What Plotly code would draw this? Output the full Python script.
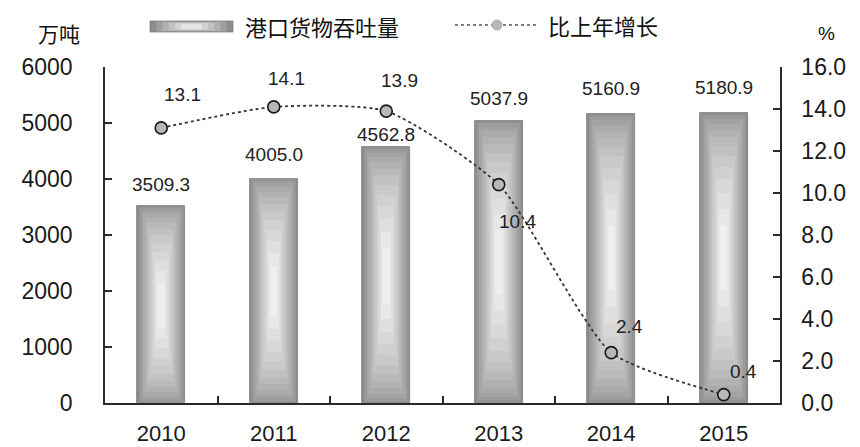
import plotly.graph_objects as go

# ---------------- data ----------------
years = ["2010", "2011", "2012", "2013", "2014", "2015"]
throughput = [3509.3, 4005.0, 4562.8, 5037.9, 5160.9, 5180.9]   # 万吨
growth = [13.1, 14.1, 13.9, 10.4, 2.4, 0.4]                     # %
left_ticks = [0, 1000, 2000, 3000, 4000, 5000, 6000]
right_ticks = [0, 2, 4, 6, 8, 10, 12, 14, 16]
bar_name = "港口货物吞吐量"
line_name = "比上年增长"
left_unit = "万吨"
right_unit = "%"

# ---------------- style ----------------
NUM_FONT = "Liberation Sans, Arial, sans-serif"
CJK_FONT = "Noto Sans CJK SC, sans-serif"
AX = "#2a2a2a"
EDGE = (140, 140, 140)
CENTER = (246, 246, 246)


def mix(f):
    r, g, b = (int(round(EDGE[i] + (CENTER[i] - EDGE[i]) * f)) for i in range(3))
    return f"rgb({r},{g},{b})"


fig = go.Figure()

# layered bars -> approximate the radial grey gradient of the original
N = 14
W = 0.43
for k in range(N):
    f = k / N
    g = 0.9 * f ** 2
    bases = [v * 0.5 * g for v in throughput]
    heights = [v * (1 - g) for v in throughput]
    fig.add_trace(go.Bar(
        x=years, y=heights, base=bases, width=W * (1 - 0.93 * f),
        marker=dict(color=mix(f),
                    line=dict(color="#7c7c7c" if k == 0 else mix(f), width=0.8 if k == 0 else 0)),
        showlegend=False, hoverinfo="skip", yaxis="y",
    ))

# growth line
fig.add_trace(go.Scatter(
    x=years, y=growth, yaxis="y2", mode="lines+markers",
    line=dict(shape="spline", smoothing=0.6, dash="dot", color="#333333", width=1.8),
    marker=dict(size=12, color="#b8b8b8", line=dict(color="#1a1a1a", width=1.6)),
    showlegend=False, hoverinfo="skip",
))

annotations = []
# bar value labels (x given as category index); yshift in px, up is positive
bar_shift = [22, 24, 13, 22, 25, 25]
for i, (v, s) in enumerate(zip(throughput, bar_shift)):
    annotations.append(dict(x=i, y=v, xref="x", yref="y", text=f"{v:.1f}",
                            showarrow=False, yshift=s, yanchor="middle",
                            font=dict(family=NUM_FONT, size=19, color="#222")))
# growth labels (xshift right, yshift up)
line_shift = [(21, 33), (13, 28), (13, 31), (19, -37), (18, 26), (20, 23)]
for i, (v, (dx, dy)) in enumerate(zip(growth, line_shift)):
    annotations.append(dict(x=i, y=v, xref="x", yref="y2", text=f"{v:.1f}",
                            showarrow=False, xshift=dx, yshift=dy,
                            font=dict(family=NUM_FONT, size=19, color="#222")))

# units
annotations.append(dict(x=-0.034, y=1.101, xref="paper", yref="paper", text=left_unit,
                        xanchor="right", yanchor="middle", showarrow=False,
                        font=dict(family=CJK_FONT, size=21, color="#111")))
annotations.append(dict(x=1.054, y=1.10, xref="paper", yref="paper", text=right_unit,
                        xanchor="left", yanchor="middle", showarrow=False,
                        font=dict(family=NUM_FONT, size=19, color="#111")))

# custom legend text
annotations.append(dict(x=0.205, y=1.122, xref="paper", yref="paper", text=bar_name,
                        xanchor="left", yanchor="middle", showarrow=False,
                        font=dict(family=CJK_FONT, size=22, color="#111")))
annotations.append(dict(x=0.654, y=1.125, xref="paper", yref="paper", text=line_name,
                        xanchor="left", yanchor="middle", showarrow=False,
                        font=dict(family=CJK_FONT, size=22, color="#111")))

shapes = []
# legend bar swatch (nested rects for gradient)
sx0, sx1, sy0, sy1 = 0.0667, 0.1896, 1.1042, 1.1369
L = 6
for k in range(L):
    f = k / L
    dx = (sx1 - sx0) * 0.5 * f * 0.9
    dy = (sy1 - sy0) * 0.5 * f * 0.6
    shapes.append(dict(type="rect", xref="paper", yref="paper",
                       x0=sx0 + dx, x1=sx1 - dx, y0=sy0 + dy, y1=sy1 - dy,
                       fillcolor=mix(f), line=dict(width=0.8 if k == 0 else 0, color="#7c7c7c"),
                       layer="above"))
# legend line swatch
shapes.append(dict(type="line", xref="paper", yref="paper", x0=0.5185, x1=0.64, y0=1.125, y1=1.125,
                   line=dict(color="#555", width=1.6, dash="dot")))
shapes.append(dict(type="circle", xref="paper", yref="paper",
                   x0=0.5807 - 0.0074, x1=0.5807 + 0.0074, y0=1.125 - 0.0149, y1=1.125 + 0.0149,
                   fillcolor="#b8b8b8", line=dict(color="#b0b0b0", width=1)))

# margins compensate the page's default 8px body offset
fig.update_layout(
    width=860, height=447,
    margin=dict(l=97, r=88, t=59, b=52, autoexpand=False),
    paper_bgcolor="white", plot_bgcolor="white",
    barmode="overlay", bargap=0,
    showlegend=False,
    annotations=annotations, shapes=shapes,
    xaxis=dict(type="category", range=[-0.5, len(years) - 0.5], autorange=False, automargin=False,
               showline=True, linecolor=AX, linewidth=1.5,
               ticks="inside", ticklen=7, tickcolor=AX, tickwidth=1.5, tickson="boundaries",
               showgrid=False, zeroline=False, ticklabelstandoff=10, tickangle=0,
               tickfont=dict(family=NUM_FONT, size=22, color="#1a1a1a")),
    yaxis=dict(range=[0, 6000], autorange=False, automargin=False, tickvals=left_ticks, showline=True,
               linecolor=AX, linewidth=1.5,
               ticks="inside", ticklen=7, tickcolor=AX, tickwidth=1.5,
               showgrid=False, zeroline=False, ticklabelstandoff=26,
               tickfont=dict(family=NUM_FONT, size=23, color="#1a1a1a")),
    yaxis2=dict(range=[0, 16], autorange=False, automargin=False, tickvals=right_ticks, tickformat=".1f",
                overlaying="y", side="right",
                showline=True, linecolor=AX, linewidth=1.5,
                ticks="inside", ticklen=7, tickcolor=AX, tickwidth=1.5,
                showgrid=False, zeroline=False, ticklabelstandoff=15,
                tickfont=dict(family=NUM_FONT, size=23, color="#1a1a1a")),
)

fig.write_html("out.html")
